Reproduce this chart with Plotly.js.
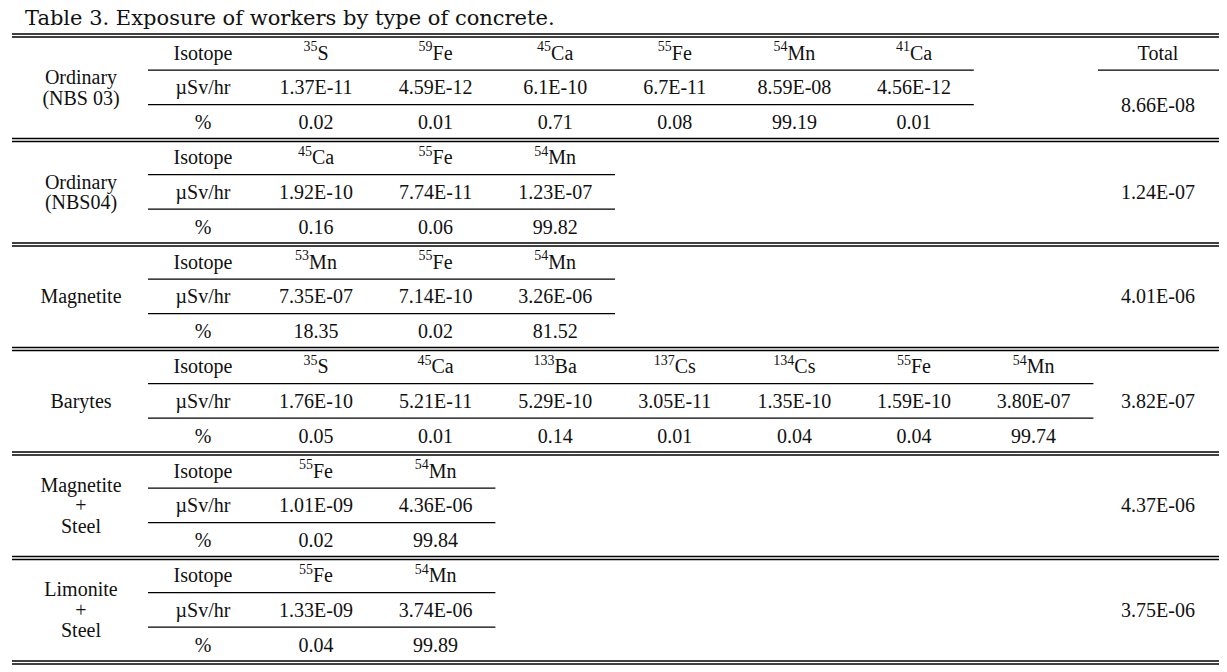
<!DOCTYPE html>
<html>
<head>
<meta charset="utf-8">
<script src="https://cdn.plot.ly/plotly-3.0.1.min.js"></script>
<style>html,body{margin:0;padding:0;background:#fff;}#chart{width:1227px;height:672px;}</style>
</head>
<body>
<div id="chart"></div>
<script>
// ---------- DATA ----------
const tableTitle = "Table 3. Exposure of workers by type of concrete.";
const rowHeaders = ["Isotope", "\u00b5Sv/hr", "%"];
const totalHeader = "Total";

const materials = [
  ["Ordinary", "(NBS 03)"],
  ["Ordinary", "(NBS04)"],
  ["Magnetite"],
  ["Barytes"],
  ["Magnetite", "+", "Steel"],
  ["Limonite", "+", "Steel"]
];

const isoMass = [
  [35, 59, 45, 55, 54, 41],
  [45, 55, 54],
  [53, 55, 54],
  [35, 45, 133, 137, 134, 55, 54],
  [55, 54],
  [55, 54]
];
const isoElem = [
  ["S", "Fe", "Ca", "Fe", "Mn", "Ca"],
  ["Ca", "Fe", "Mn"],
  ["Mn", "Fe", "Mn"],
  ["S", "Ca", "Ba", "Cs", "Cs", "Fe", "Mn"],
  ["Fe", "Mn"],
  ["Fe", "Mn"]
];
const doseRates = [
  ["1.37E-11", "4.59E-12", "6.1E-10", "6.7E-11", "8.59E-08", "4.56E-12"],
  ["1.92E-10", "7.74E-11", "1.23E-07"],
  ["7.35E-07", "7.14E-10", "3.26E-06"],
  ["1.76E-10", "5.21E-11", "5.29E-10", "3.05E-11", "1.35E-10", "1.59E-10", "3.80E-07"],
  ["1.01E-09", "4.36E-06"],
  ["1.33E-09", "3.74E-06"]
];
const percents = [
  ["0.02", "0.01", "0.71", "0.08", "99.19", "0.01"],
  ["0.16", "0.06", "99.82"],
  ["18.35", "0.02", "81.52"],
  ["0.05", "0.01", "0.14", "0.01", "0.04", "0.04", "99.74"],
  ["0.02", "99.84"],
  ["0.04", "99.89"]
];
const totals = ["8.66E-08", "1.24E-07", "4.01E-06", "3.82E-07", "4.37E-06", "3.75E-06"];

// ---------- LAYOUT CONSTANTS ----------
const W = 1227, H = 672;
const X0 = 12, X1 = 1219;
const G0 = 35.5, GSTEP = 104.5, ROWH = 34.6, ROWOFF = 19.3;
const labelX = 81, isoX = 203, data0 = 316, colW = 119.6, totalX = 1158;
const innerX0 = 148, totalLineX0 = 1098;
const labelLineH = 20.5;
const FONT = "Liberation Serif, Times New Roman, serif";

const colX = i => data0 + colW * i;
const rowY = (g, r) => G0 + GSTEP * g + ROWOFF + ROWH * r;

const xs = [], ys = [], txt = [];
function put(x, y, t) { xs.push(x); ys.push(y); txt.push(t); }

const shapes = [];
function hline(x0, x1, y, w) {
  shapes.push({type: "line", xref: "x", yref: "y", x0: x0, x1: x1, y0: y, y1: y,
               line: {color: "#000", width: w}});
}

for (let g = 0; g < materials.length; g++) {
  const top = G0 + GSTEP * g;
  const lines = materials[g];
  const midY = rowY(g, 1);
  lines.forEach((ln, k) => put(labelX, midY + (k - (lines.length - 1) / 2) * labelLineH, ln));
  rowHeaders.forEach((h, r) => put(isoX, rowY(g, r), h));
  const n = isoMass[g].length;
  for (let i = 0; i < n; i++) {
    put(colX(i), rowY(g, 0), "<sup>" + isoMass[g][i] + "</sup>" + isoElem[g][i]);
    put(colX(i), rowY(g, 1), doseRates[g][i]);
    put(colX(i), rowY(g, 2), percents[g][i]);
  }
  if (g === 0) {
    put(totalX, rowY(g, 0), totalHeader);
    put(totalX, (rowY(g, 1) + rowY(g, 2)) / 2, totals[g]);
    hline(totalLineX0, X1, top + ROWH, 1.2);
  } else {
    put(totalX, rowY(g, 1), totals[g]);
  }
  const xEnd = colX(n - 1) + colW / 2;
  hline(innerX0, xEnd, top + ROWH, 1.2);
  hline(innerX0, xEnd, top + 2 * ROWH, 1.2);
}
for (let g = 0; g <= materials.length; g++) {
  const y = G0 + GSTEP * g;
  hline(X0, X1, y - 1.5, 1.3);
  hline(X0, X1, y + 1.5, 1.3);
}

const trace = {
  type: "scatter", mode: "text", x: xs, y: ys, text: txt,
  textposition: "middle center",
  textfont: {family: FONT, size: 20, color: "#111"},
  hoverinfo: "skip", showlegend: false
};

const layout = {
  width: W, height: H,
  margin: {l: 0, r: 0, t: 0, b: 0},
  paper_bgcolor: "#fff", plot_bgcolor: "#fff",
  title: {text: tableTitle, x: 25 / W, xanchor: "left", xref: "paper",
          y: 1 - 18 / H, yanchor: "middle", yref: "container",
          font: {family: "DejaVu Serif, serif", size: 21, color: "#111"}},
  xaxis: {range: [0, W], visible: false, fixedrange: true},
  yaxis: {range: [H, 0], visible: false, fixedrange: true},
  shapes: shapes,
  showlegend: false
};

Plotly.newPlot("chart", [trace], layout, {staticPlot: true, displayModeBar: false});
</script>
</body>
</html>
